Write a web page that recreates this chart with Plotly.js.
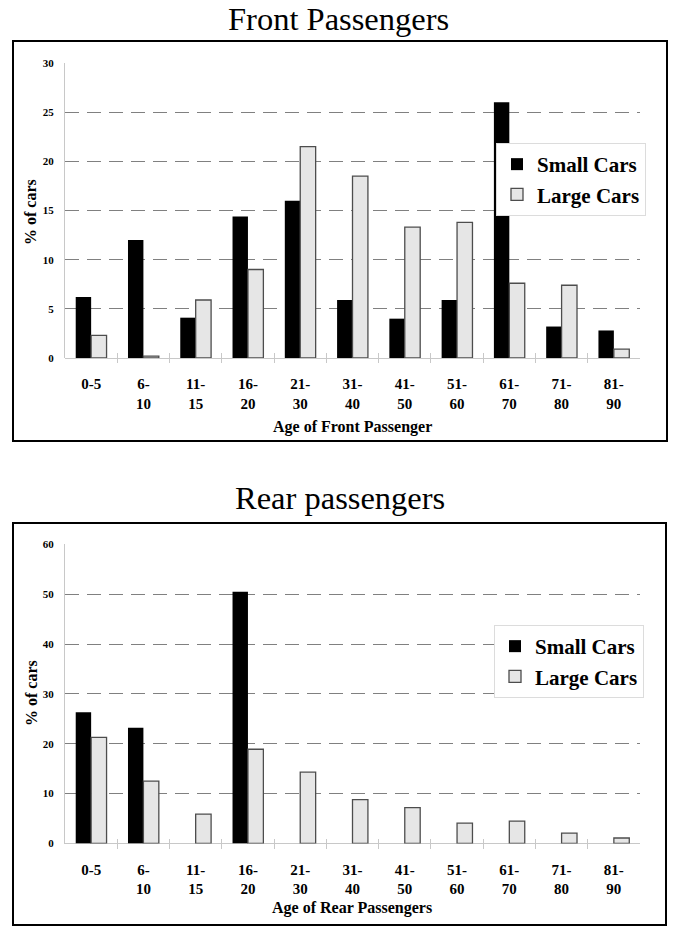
<!DOCTYPE html>
<html><head><meta charset="utf-8">
<script src="https://cdn.plot.ly/plotly-3.0.1.min.js"></script>
<style>body{margin:0;background:#fff}#c{width:676px;height:936px}</style>
</head><body><div id="c"></div>
<script>
const tickLabels = ['0-5','6-<br>10','11-<br>15','16-<br>20','21-<br>30','31-<br>40','41-<br>50','51-<br>60','61-<br>70','71-<br>80','81-<br>90'];
const seriesNames = ['Small Cars','Large Cars'];
const frontSmall = [6.2,12.0,4.1,14.4,16.0,5.9,4.0,5.9,26.0,3.2,2.8];
const frontLarge = [2.3,0.2,5.9,9.0,21.5,18.5,13.3,13.8,7.6,7.4,0.9];
const rearSmall = [26.3,23.2,0,50.5,0,0,0,0,0,0,0];
const rearLarge = [21.3,12.5,5.9,18.9,14.3,8.8,7.2,4.1,4.5,2.1,1.1];
const titles = ['Front Passengers','Rear passengers'];
const xTitles = ['Age of Front Passenger','Age of Rear Passengers'];
const yTitle = '% of cars';

const W = 676, H = 936;
const px = v => v / W;
const py = v => 1 - v / H;
const serif = 'Liberation Serif';
const b = s => '<b>' + s + '</b>';
const smallStyle = {color:'#000', line:{color:'#000', width:0}};
const largeStyle = {color:'#e6e6e6', line:{color:'#4d4d4d', width:1.3}};

const boldTicks = tickLabels.map(b);
const traces = [
  {type:'bar', name:b(seriesNames[0]), x:tickLabels, y:frontSmall, xaxis:'x', yaxis:'y', marker:smallStyle, legend:'legend'},
  {type:'bar', name:b(seriesNames[1]), x:tickLabels, y:frontLarge, xaxis:'x', yaxis:'y', marker:largeStyle, legend:'legend'},
  {type:'bar', name:b(seriesNames[0]), x:tickLabels, y:rearSmall, xaxis:'x2', yaxis:'y2', marker:smallStyle, legend:'legend2'},
  {type:'bar', name:b(seriesNames[1]), x:tickLabels, y:rearLarge, xaxis:'x2', yaxis:'y2', marker:largeStyle, legend:'legend2'}
];

// x axis floats 5px below the bar baseline; its inside ticks cross the baseline
function xAx(baselinePx){
  return {domain:[px(65), px(640)], anchor:'free', position:py(baselinePx + 5), type:'category',
    tickmode:'array', tickvals:tickLabels, ticktext:boldTicks,
    showline:false, ticks:'inside', tickson:'boundaries', ticklen:10, tickcolor:'#c8c8c8',
    tickfont:{family:serif, size:15, color:'#000'}, ticklabelstandoff:10,
    showgrid:false, zeroline:false, fixedrange:true};
}
function yAx(anchor, dom, maxv, dt){
  const vals = [], txt = [];
  for (let v = 0; v <= maxv; v += dt) { vals.push(v); txt.push(b(String(v))); }
  return {domain:dom, anchor:anchor, range:[0, maxv], tickmode:'array', tickvals:vals, ticktext:txt,
    showline:true, linecolor:'#c8c8c8', linewidth:1, ticks:'',
    showgrid:true, gridcolor:'#808080', gridwidth:1, griddash:'14px,8px',
    zeroline:true, zerolinecolor:'#c8c8c8', zerolinewidth:1,
    tickfont:{family:serif, size:11, color:'#000'},
    ticklabelstandoff:8, fixedrange:true};
}

const legendBase = {xanchor:'right', yanchor:'top', bgcolor:'#fff', bordercolor:'#dcdcdc', borderwidth:1,
  font:{family:serif, size:21, color:'#000'}, traceorder:'normal', itemwidth:30, tracegroupgap:0};

const layout = {
  width:W, height:H, margin:{l:0,r:0,t:0,b:0}, paper_bgcolor:'#fff', plot_bgcolor:'#fff',
  barmode:'group', bargap:0.41, bargroupgap:0, showlegend:true,
  xaxis:xAx(358), yaxis:yAx('x', [py(358), py(63)], 30, 5),
  xaxis2:xAx(843.5), yaxis2:yAx('x2', [py(843.5), py(544.3)], 60, 10),
  legend:Object.assign({x:px(646), y:py(143)}, legendBase),
  legend2:Object.assign({x:px(644), y:py(625)}, legendBase),
  shapes:[
    {type:'rect', xref:'paper', yref:'paper', x0:px(13), x1:px(667), y0:py(441), y1:py(41), line:{color:'#000', width:2}},
    {type:'rect', xref:'paper', yref:'paper', x0:px(13), x1:px(666), y0:py(925), y1:py(523), line:{color:'#000', width:2}}
  ],
  annotations:[
    {text:titles[0], xref:'paper', yref:'paper', x:px(339), y:py(19), showarrow:false, xanchor:'center', yanchor:'middle', font:{family:serif, size:32.5, color:'#000'}},
    {text:titles[1], xref:'paper', yref:'paper', x:px(340), y:py(498), showarrow:false, xanchor:'center', yanchor:'middle', font:{family:serif, size:32.5, color:'#000'}},
    {text:b(xTitles[0]), xref:'paper', yref:'paper', x:px(352), y:py(427), showarrow:false, xanchor:'center', yanchor:'middle', font:{family:serif, size:16, color:'#000'}},
    {text:b(xTitles[1]), xref:'paper', yref:'paper', x:px(351.5), y:py(908), showarrow:false, xanchor:'center', yanchor:'middle', font:{family:serif, size:16, color:'#000'}},
    {text:b(yTitle), xref:'paper', yref:'paper', x:px(31), y:py(212), showarrow:false, textangle:-90, xanchor:'center', yanchor:'middle', font:{family:serif, size:16, color:'#000'}},
    {text:b(yTitle), xref:'paper', yref:'paper', x:px(31), y:py(693), showarrow:false, textangle:-90, xanchor:'center', yanchor:'middle', font:{family:serif, size:16, color:'#000'}}
  ]
};

Plotly.newPlot('c', traces, layout, {displayModeBar:false, staticPlot:true});
</script>
</body></html>
